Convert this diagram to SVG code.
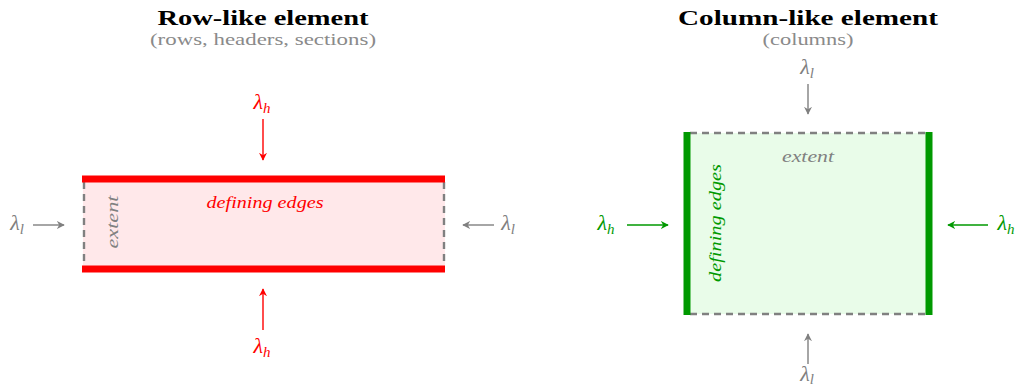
<svg xmlns="http://www.w3.org/2000/svg" width="1021" height="388" viewBox="0 0 1021 388">
<style>
.t{font-family:"Liberation Serif","DejaVu Serif",serif;}
.title{font-size:21px;font-weight:bold;fill:#000;text-anchor:middle;}
.sub{font-size:17px;fill:#8a8a8a;text-anchor:middle;}
.lam{font-size:22px;font-style:italic;text-anchor:middle;}
.sb{font-size:15px;font-style:italic;}
.lab{font-size:17px;font-style:italic;text-anchor:middle;}
.gray{fill:#808080;}
.red{fill:#ff0000;}
.grn{fill:#009900;}
.dash{stroke:#808080;stroke-width:2.4;stroke-dasharray:7,5;fill:none;}
.ag{stroke:#808080;stroke-width:1.4;fill:none;}
.ar{stroke:#ff0000;stroke-width:1.4;fill:none;}
.agr{stroke:#009900;stroke-width:1.4;fill:none;}
</style>
<defs>
<marker id="mg" viewBox="0 0 10 10" refX="9" refY="5" markerWidth="8" markerHeight="8" markerUnits="userSpaceOnUse" orient="auto"><path d="M0,0 L10,5 L0,10 L3,5 Z" fill="#808080"/></marker>
<marker id="mr" viewBox="0 0 10 10" refX="9" refY="5" markerWidth="8" markerHeight="8" markerUnits="userSpaceOnUse" orient="auto"><path d="M0,0 L10,5 L0,10 L3,5 Z" fill="#ff0000"/></marker>
<marker id="mgr" viewBox="0 0 10 10" refX="9" refY="5" markerWidth="8" markerHeight="8" markerUnits="userSpaceOnUse" orient="auto"><path d="M0,0 L10,5 L0,10 L3,5 Z" fill="#009900"/></marker>
</defs>

<g id="row-title">
<text class="t title" x="263" y="25" textLength="211" lengthAdjust="spacingAndGlyphs">Row-like element</text>
<text class="t sub" x="263" y="45" textLength="226" lengthAdjust="spacingAndGlyphs">(rows, headers, sections)</text>
</g>
<g id="col-title">
<text class="t title" x="808" y="25" textLength="260" lengthAdjust="spacingAndGlyphs">Column-like element</text>
<text class="t sub" x="808" y="45" textLength="91" lengthAdjust="spacingAndGlyphs">(columns)</text>
</g>

<g id="row-element">
<rect x="83" y="179" width="362" height="90" fill="#ffe8ea"/>
<line class="dash" x1="84" y1="182" x2="84" y2="266"/>
<line class="dash" x1="444" y1="182" x2="444" y2="266"/>
<line x1="82" y1="179" x2="445" y2="179" stroke="#ff0000" stroke-width="7"/>
<line x1="82" y1="269" x2="445" y2="269" stroke="#ff0000" stroke-width="7"/>
<text class="t lab red" x="265" y="208" textLength="117" lengthAdjust="spacingAndGlyphs">defining edges</text>
<text class="t lab gray" transform="translate(118,222) rotate(-90)" textLength="53" lengthAdjust="spacingAndGlyphs">extent</text>
</g>

<g id="col-element">
<rect x="687" y="133" width="242" height="181" fill="#e9fce9"/>
<line class="dash" x1="690" y1="133" x2="927" y2="133"/>
<line class="dash" x1="690" y1="314" x2="927" y2="314"/>
<line x1="687" y1="132" x2="687" y2="315" stroke="#009900" stroke-width="7"/>
<line x1="929" y1="132" x2="929" y2="315" stroke="#009900" stroke-width="7"/>
<text class="t lab gray" x="808" y="162" textLength="52" lengthAdjust="spacingAndGlyphs">extent</text>
<text class="t lab grn" transform="translate(721,223) rotate(-90)" textLength="118" lengthAdjust="spacingAndGlyphs">defining edges</text>
</g>

<g id="labels">
<text class="t lam red" x="262" y="109">λ<tspan class="sb" dy="4">h</tspan></text>
<text class="t lam red" x="262" y="353">λ<tspan class="sb" dy="4">h</tspan></text>
<text class="t lam gray" x="17" y="230">λ<tspan class="sb" dy="4">l</tspan></text>
<text class="t lam gray" x="508" y="230">λ<tspan class="sb" dy="4">l</tspan></text>
<text class="t lam gray" x="807" y="74">λ<tspan class="sb" dy="4">l</tspan></text>
<text class="t lam gray" x="807" y="381">λ<tspan class="sb" dy="3">l</tspan></text>
<text class="t lam grn" x="606" y="230">λ<tspan class="sb" dy="4">h</tspan></text>
<text class="t lam grn" x="1006" y="230">λ<tspan class="sb" dy="4">h</tspan></text>
</g>

<g id="connectors">
<line class="ar" x1="263" y1="119" x2="263" y2="160" marker-end="url(#mr)"/>
<line class="ar" x1="263" y1="330" x2="263" y2="289" marker-end="url(#mr)"/>
<line class="ag" x1="33" y1="225" x2="64" y2="225" marker-end="url(#mg)"/>
<line class="ag" x1="494" y1="225" x2="463" y2="225" marker-end="url(#mg)"/>
<line class="ag" x1="808" y1="84" x2="808" y2="114" marker-end="url(#mg)"/>
<line class="ag" x1="808" y1="364" x2="808" y2="334" marker-end="url(#mg)"/>
<line class="agr" x1="627" y1="225" x2="668" y2="225" marker-end="url(#mgr)"/>
<line class="agr" x1="988" y1="225" x2="948" y2="225" marker-end="url(#mgr)"/>
</g>
</svg>
